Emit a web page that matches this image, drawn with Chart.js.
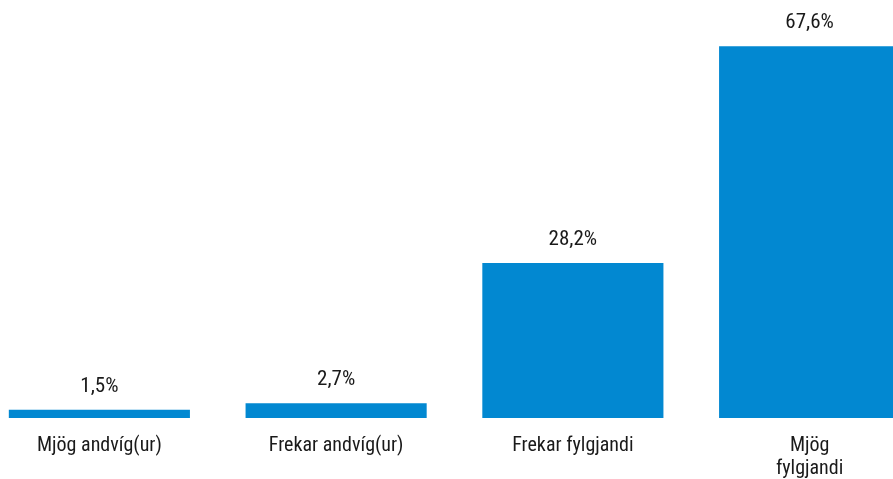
<!DOCTYPE html>
<html>
<head>
<meta charset="utf-8">
<script src="https://cdn.jsdelivr.net/npm/chart.js@4"></script>
<style>
  html, body { margin: 0; padding: 0; overflow: hidden; background: #fff; }
  #wrap { position: absolute; left: -19px; top: 0; width: 947px; height: 479px; }
</style>
</head>
<body>
<div id="wrap"><canvas id="chart"></canvas></div>
<script>
// Gögn
const categories = ["Mjög andvíg(ur)", "Frekar andvíg(ur)", "Frekar fylgjandi", ["Mjög", "fylgjandi"]];
const values = [1.5, 2.7, 28.2, 67.6];
const valueLabels = ["1,5%", "2,7%", "28,2%", "67,6%"];

const fontFamily = "'Roboto Condensed', 'Liberation Sans Narrow', Arial, sans-serif";

// Merki fyrir ofan súlurnar
const valueLabelPlugin = {
    id: "valueLabels",
    afterDatasetsDraw(chart) {
        const ctx = chart.ctx;
        const meta = chart.getDatasetMeta(0);
        ctx.save();
        ctx.font = "21px " + fontFamily;
        ctx.fillStyle = "#1a1a1a";
        ctx.textAlign = "center";
        ctx.textBaseline = "middle";
        meta.data.forEach((bar, i) => {
            ctx.fillText(valueLabels[i], bar.x, bar.y - 23);
        });
        ctx.restore();
    }
};

new Chart(document.getElementById("chart"), {
    type: "bar",
    data: {
        labels: categories,
        datasets: [{
            data: values,
            backgroundColor: "#0288D1",
            categoryPercentage: 1,
            barPercentage: 0.765
        }]
    },
    options: {
        responsive: true,
        maintainAspectRatio: false,
        animation: false,
        layout: { padding: 0 },
        plugins: {
            legend: { display: false },
            tooltip: { enabled: false }
        },
        scales: {
            x: {
                grid: { display: false, drawTicks: false },
                border: { display: false },
                afterFit: (scale) => { scale.height = 61; },
                ticks: {
                    color: "#1a1a1a",
                    font: { family: fontFamily, size: 20, lineHeight: 1.15 },
                    padding: 16,
                    maxRotation: 0,
                    autoSkip: false
                }
            },
            y: {
                display: false,
                min: 0,
                max: 76
            }
        }
    },
    plugins: [valueLabelPlugin]
});
</script>
</body>
</html>
